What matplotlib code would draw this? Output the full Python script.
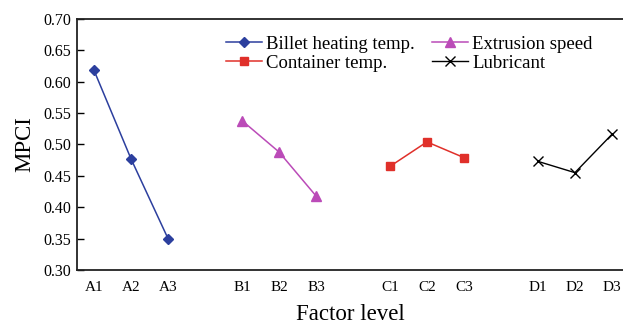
import matplotlib
matplotlib.use("Agg")
import matplotlib.pyplot as plt

plt.rcParams['font.family'] = ['Liberation Serif', 'DejaVu Serif']

tick_labels = ["A1", "A2", "A3", "B1", "B2", "B3", "C1", "C2", "C3", "D1", "D2", "D3"]
series_names = ["Billet heating temp.", "Container temp.", "Extrusion speed", "Lubricant"]
billet = [0.618, 0.477, 0.350]
container = [0.465, 0.504, 0.479]
extrusion = [0.538, 0.488, 0.418]
lubricant = [0.473, 0.455, 0.516]

pos_A = [0, 1, 2]
pos_B = [4, 5, 6]
pos_C = [8, 9, 10]
pos_D = [12, 13, 14]

fig = plt.figure(figsize=(6.23, 3.26), dpi=100)
ax = fig.add_axes([0.1236, 0.172, 0.8764, 0.770])

hA, = ax.plot(pos_A, billet, color="#2c3f9e", marker="D", markersize=5.5, lw=1.1, label=series_names[0])
hB, = ax.plot(pos_B, extrusion, color="#bb4bb8", marker="^", markersize=7, lw=1.1, label=series_names[2])
hC, = ax.plot(pos_C, container, color="#e0302a", marker="s", markersize=6, lw=1.1, label=series_names[1])
hD, = ax.plot(pos_D, lubricant, color="black", marker="x", markersize=7, lw=1.0, label=series_names[3])

ax.set_ylim(0.30, 0.70)
ax.set_yticks([0.30, 0.35, 0.40, 0.45, 0.50, 0.55, 0.60, 0.65, 0.70])
ax.set_yticklabels([f"{v:.2f}" for v in ax.get_yticks()])
ax.set_xlim(-0.46, 14.3)
ax.set_xticks(pos_A + pos_B + pos_C + pos_D)
ax.set_xticklabels(tick_labels)

ax.tick_params(axis='y', direction='in', length=5, width=1, labelsize=11.5, pad=4)
ax.tick_params(axis='x', length=0, labelsize=11, pad=8)

ax.spines['right'].set_visible(False)
for s in ['left', 'bottom', 'top']:
    ax.spines[s].set_linewidth(1.3)
    ax.spines[s].set_color('#222222')

ax.set_ylabel("MPCI", fontsize=16.5, labelpad=6)
ax.set_xlabel("Factor level", fontsize=16.5, labelpad=7)

leg = ax.legend(handles=[hA, hC, hB, hD], ncol=2, frameon=False, fontsize=13.5,
                loc='upper left', bbox_to_anchor=(0.273, 0.934),
                handlelength=1.9, handletextpad=0.25, columnspacing=0.9,
                labelspacing=0.12, borderaxespad=0, borderpad=0)

fig.savefig("out.png", dpi=100)
